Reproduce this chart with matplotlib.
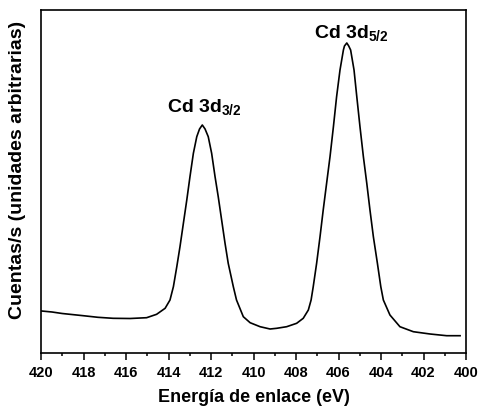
import numpy as np
import matplotlib
matplotlib.use("Agg")
import matplotlib.pyplot as plt
from matplotlib.ticker import MultipleLocator

# Cd 3d XPS spectrum
energy = [419.97, 419.48, 419.0, 418.01, 417.32, 416.61, 415.81, 415.03, 414.56,
          414.16, 413.93, 413.77, 413.61, 413.46, 413.30, 413.14, 412.99, 412.83,
          412.67, 412.54, 412.41, 412.28, 412.13, 411.97, 411.81, 411.66, 411.50,
          411.34, 411.19, 410.95, 410.80, 410.48, 410.16, 409.69, 409.22, 408.91,
          408.44, 407.97, 407.66, 407.42, 407.29, 407.19, 407.03, 406.87, 406.72,
          406.56, 406.40, 406.24, 406.09, 405.93, 405.77, 405.72, 405.61, 405.52,
          405.43, 405.27, 405.14, 404.99, 404.83, 404.67, 404.52, 404.36, 404.17,
          404.01, 403.89, 403.58, 403.11, 402.48, 401.69, 400.91, 400.28]
counts = [42.0, 41.0, 39.5, 37.3, 35.7, 34.7, 34.5, 35.3, 38.7,
          44.7, 53.0, 66.3, 86.3, 106.3, 129.7, 153.0, 176.3, 199.7,
          216.3, 224.0, 228.0, 224.0, 216.3, 199.7, 176.3, 156.3, 133.0,
          109.7, 89.7, 66.3, 53.0, 36.3, 30.3, 26.3, 24.0, 24.7,
          26.3, 29.7, 34.7, 43.0, 53.0, 66.3, 89.7, 116.3, 143.0,
          169.7, 196.3, 226.3, 256.3, 283.0, 303.0, 307.0, 310.0, 307.0,
          303.0, 283.0, 256.3, 226.3, 196.3, 169.7, 143.0, 116.3, 89.7,
          66.3, 53.0, 38.0, 26.3, 21.3, 19.0, 17.3, 17.3]

peak_labels = ["3/2", "5/2"]
label_x = [412.33, 405.4]
label_y = [240.0, 314.7]

plt.rcParams['font.family'] = ['Liberation Sans', 'DejaVu Sans']
plt.rcParams['mathtext.fontset'] = 'custom'
plt.rcParams['mathtext.rm'] = 'Liberation Sans:bold'
plt.rcParams['mathtext.bf'] = 'Liberation Sans:bold'

fig = plt.figure(figsize=(4.79, 4.09), dpi=100)
ax = fig.add_axes([0.0856, 0.1369, 0.8873, 0.8387])

ax.plot(energy, counts, color='black', lw=1.2)

ax.set_xlim(420, 400)
ax.set_ylim(0, 343)
ax.xaxis.set_major_locator(MultipleLocator(2))
ax.xaxis.set_minor_locator(MultipleLocator(1))
ax.tick_params(axis='x', which='major', direction='out', length=5, width=1.1,
               labelsize=10.5, pad=4)
ax.tick_params(axis='x', which='minor', direction='out', length=2.5, width=1.1)
ax.set_yticks([])
for lab in ax.get_xticklabels():
    lab.set_fontweight('bold')
for sp in ax.spines.values():
    sp.set_linewidth(1.2)

ax.set_xlabel("Energía de enlace (eV)", fontsize=13, fontweight='bold')
ax.set_ylabel("Cuentas/s (unidades arbitrarias)", fontsize=14, fontweight='bold')
ax.xaxis.set_label_coords(0.5, -0.105)
ax.yaxis.set_label_coords(-0.035, 0.534)

# peak labels
for sub, x, y in zip(peak_labels, label_x, label_y):
    ax.text(x, y, r"Cd 3d$_{%s}$" % sub, fontsize=14, fontweight='bold',
            ha='center', va='baseline')

fig.savefig("out.png", dpi=100)
